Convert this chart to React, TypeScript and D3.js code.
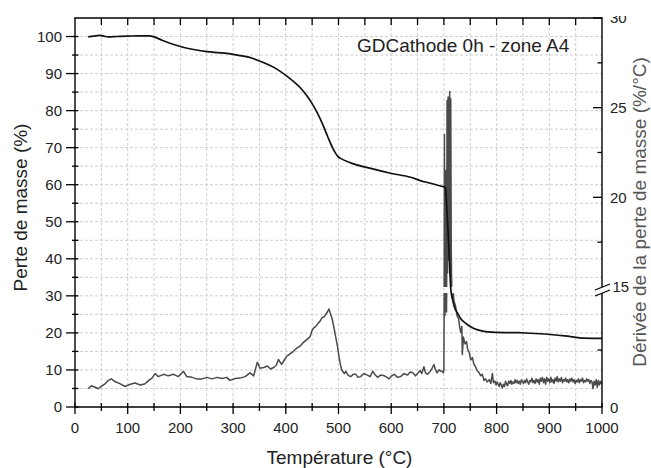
import React from "react";
import * as d3 from "d3";

// ---- Data ----
const tgTemp = [25, 35, 47, 55, 63, 80, 100, 120, 140, 150, 165, 180, 200, 225, 250, 275, 300, 320, 335, 350, 365, 383, 402, 415, 428, 440, 450, 460, 470, 480, 488, 494, 499, 504, 523, 561, 599, 637, 662, 675, 690, 703, 705, 708, 711, 713, 716, 720, 726, 732, 738, 745, 757, 770, 783, 814, 840, 865, 890, 929, 967, 1000];
const tgMass = [99.9, 100.1, 100.3, 100.1, 99.9, 100.0, 100.1, 100.2, 100.15, 99.9, 99.0, 98.2, 97.3, 96.5, 95.9, 95.6, 95.2, 94.7, 94.2, 93.4, 92.5, 91.2, 89.3, 87.8, 86.1, 84.0, 81.9, 79.3, 76.3, 72.8, 70.2, 68.6, 67.6, 67.1, 65.9, 64.4, 63.1, 62.0, 60.8, 60.4, 59.8, 59.2, 55.0, 47.0, 38.0, 32.0, 29.3, 27.0, 25.3, 23.8, 23.0, 22.2, 21.2, 20.6, 20.3, 20.1, 20.1, 19.9, 19.7, 19.2, 18.6, 18.5];

const dtgTemp = [25, 31, 38, 44, 50, 57, 63, 69, 76, 86, 95, 105, 114, 124, 133, 140, 146, 152, 158, 168, 177, 187, 196, 206, 212, 222, 231, 241, 250, 260, 269, 279, 288, 294, 304, 313, 323, 332, 339, 346, 351, 358, 365, 371, 377, 382, 386, 392, 397, 402, 408, 414, 420, 427, 432, 437, 442, 446, 450, 453, 457, 461, 465, 469, 473, 476, 479, 482, 485, 488, 492, 495, 498, 501, 503, 506, 508, 511, 514, 518, 523, 528, 533, 537, 542, 548, 555, 560, 565, 570, 574, 580, 587, 592, 596, 601, 606, 612, 618, 624, 631, 636, 641, 646, 650, 655, 658, 662, 665, 669, 673, 677, 681, 684, 687, 691, 694, 697, 699, 700, 701, 702, 703, 704, 705, 706, 707, 708, 709, 710, 711, 712, 713, 714, 715, 716, 718, 719, 722, 725, 728, 730, 732, 734, 735, 737, 740, 743, 745, 748, 751, 754, 757, 760, 763, 767, 770, 773, 776, 779, 782, 786, 789, 792, 794, 797, 799, 801, 803, 805, 807, 809, 811, 813, 815, 817, 819, 821, 823, 825, 827, 829, 831, 833, 835, 837, 839, 841, 843, 845, 847, 849, 851, 853, 855, 857, 859, 861, 863, 865, 867, 869, 871, 873, 875, 877, 879, 881, 883, 885, 887, 889, 891, 893, 895, 897, 899, 901, 903, 905, 907, 909, 911, 913, 915, 917, 919, 921, 923, 925, 927, 929, 931, 933, 935, 937, 939, 941, 943, 945, 947, 949, 951, 953, 955, 957, 959, 961, 963, 965, 967, 969, 971, 973, 975, 977, 979, 981, 983, 985, 987, 989, 991, 993, 995, 997, 999];
const dtgRate = [2.4, 2.8, 2.6, 2.4, 2.7, 3.05, 3.5, 3.7, 3.35, 3.05, 2.7, 3.0, 3.15, 2.9, 3.05, 3.5, 3.8, 4.4, 4.0, 4.3, 4.1, 4.3, 4.0, 4.7, 4.0, 3.9, 3.7, 3.7, 3.9, 3.7, 3.9, 3.75, 3.9, 3.5, 3.75, 3.8, 4.0, 4.5, 4.1, 5.9, 5.1, 5.2, 5.4, 5.0, 5.2, 5.5, 6.25, 5.6, 6.15, 6.7, 7.0, 7.3, 7.7, 8.0, 8.4, 8.7, 9.0, 9.25, 10.1, 10.4, 10.6, 11.0, 11.3, 11.75, 11.9, 12.2, 12.5, 12.9, 12.2, 11.6, 10.2, 9.1, 8.0, 6.6, 5.8, 4.9, 4.7, 4.4, 4.7, 4.2, 4.0, 4.3, 4.3, 3.9, 4.0, 4.4, 4.2, 4.0, 4.7, 4.2, 3.9, 4.2, 4.1, 3.9, 3.7, 4.1, 4.3, 3.9, 4.0, 4.4, 4.2, 4.6, 4.5, 4.1, 4.4, 4.8, 4.4, 5.3, 4.5, 4.3, 4.6, 5.0, 5.6, 4.9, 4.5, 4.9, 4.7, 4.7, 4.5, 4.8, 23.5, 12.0, 21.5, 14.2, 12.5, 25.4, 15.8, 25.6, 16.5, 24.0, 25.9, 15.6, 25.5, 17.0, 14.4, 14.6, 14.9, 14.0, 13.3, 12.0, 11.6, 10.5, 9.8, 10.6, 6.9, 9.2, 8.3, 8.6, 7.6, 7.2, 6.2, 6.5, 5.6, 5.3, 4.8, 4.5, 4.1, 4.3, 3.5, 3.7, 3.3, 3.6, 3.1, 4.4, 3.2, 3.4, 2.9, 3.3, 3.0, 2.7, 3.2, 2.9, 2.5, 3.0, 2.7, 3.4, 3.0, 2.8, 3.4, 3.1, 3.5, 3.0, 3.3, 3.1, 3.6, 3.2, 3.5, 3.1, 3.4, 3.0, 3.6, 3.3, 3.1, 3.5, 3.2, 3.7, 3.3, 3.0, 3.5, 3.3, 3.8, 3.2, 3.5, 3.1, 3.7, 3.3, 3.6, 3.0, 3.8, 3.4, 3.9, 3.2, 3.7, 3.0, 3.9, 3.4, 3.7, 3.2, 3.9, 3.3, 3.6, 3.1, 3.8, 3.4, 4.0, 3.3, 3.7, 3.4, 3.9, 3.2, 3.6, 3.4, 3.8, 3.3, 3.6, 3.2, 3.7, 3.4, 3.8, 3.3, 3.6, 3.1, 3.5, 3.3, 3.7, 3.2, 3.6, 3.4, 3.8, 3.2, 3.5, 3.3, 3.7, 3.4, 3.6, 3.1, 3.5, 3.3, 2.4, 3.4, 2.9, 3.6, 2.6, 3.5, 2.9, 3.4, 3.0];

const xTicks = [0, 100, 200, 300, 400, 500, 600, 700, 800, 900, 1000];
const leftTicks = [0, 10, 20, 30, 40, 50, 60, 70, 80, 90, 100];
const rightUpperTicks = [20, 25, 30];
const rightUpperMinor = [17.5, 22.5, 27.5];
const rightLowerMinor = [7.5];

const title = "GDCathode 0h - zone A4";
const xTitle = "Température (°C)";
const yTitle = "Perte de masse (%)";
const y2Title = "Dérivée de la perte de masse (%/°C)";

const BREAK = 15;

export default function App() {
  const W = 651, H = 468;
  const L = 75, R = 602, T = 18, B = 407;
  const x = d3.scaleLinear().domain([0, 1000]).range([L, R]);
  const y = d3.scaleLinear().domain([0, 105]).range([B, T]);
  const yLow = d3.scaleLinear().domain([0, BREAK]).range([B, 293]);
  const yUp = d3.scaleLinear().domain([BREAK, 30]).range([287, T]);
  const yR = (v: number) => (v <= BREAK ? yLow(v) : yUp(v));

  const tgLine = d3
    .line<number>()
    .x((_, i) => x(tgTemp[i]))
    .y((d) => y(d))
    .curve(d3.curveMonotoneX);

  // derivative with axis break
  type P = { px: number; py: number } | null;
  const pts: P[] = [];
  for (let i = 0; i < dtgTemp.length; i++) {
    const t = dtgTemp[i], v = dtgRate[i];
    if (i > 0) {
      const t0 = dtgTemp[i - 1], v0 = dtgRate[i - 1];
      if ((v0 <= BREAK) !== (v <= BREAK)) {
        const tc = t0 + ((BREAK - v0) / (v - v0)) * (t - t0);
        if (v0 <= BREAK) {
          pts.push({ px: x(tc), py: yLow(BREAK) });
          pts.push(null);
          pts.push({ px: x(tc), py: yUp(BREAK) });
        } else {
          pts.push({ px: x(tc), py: yUp(BREAK) });
          pts.push(null);
          pts.push({ px: x(tc), py: yLow(BREAK) });
        }
      }
    }
    pts.push({ px: x(t), py: yR(v) });
  }
  const dLine = d3
    .line<P>()
    .defined((d) => d !== null)
    .x((d) => (d as any).px)
    .y((d) => (d as any).py);

  const vGrid = d3.range(50, 1000, 50);
  const hGrid = d3.range(5, 105, 5);
  const leftMinor = d3.range(5, 105, 10);
  const xMinor = d3.range(50, 1000, 100);
  const topTicks = d3.range(50, 1000, 50);

  const font = "'Liberation Sans', Arial, sans-serif";
  const txt = "#222";

  return (
    <svg width={W} height={H} style={{ position: "absolute", left: 0, top: 0, background: "#fff" }} fontFamily={font}>
      <defs>
        <clipPath id="plotClip">
          <rect x={L} y={T} width={R - L} height={B - T} />
        </clipPath>
        <clipPath id="topCut" clipPathUnits="userSpaceOnUse">
          <rect x={600} y={16} width={50} height={30} />
        </clipPath>
      </defs>
      <rect x={0} y={0} width={W} height={H} fill="#fff" />
      {/* grid */}
      <g stroke="#cfcfcf" strokeWidth={1} strokeDasharray="3,2">
        {vGrid.map((t) => (
          <line key={"v" + t} x1={x(t)} x2={x(t)} y1={T} y2={B} />
        ))}
        {hGrid.map((v) => (
          <line key={"h" + v} x1={L} x2={R} y1={y(v)} y2={y(v)} />
        ))}
      </g>
      {/* curves */}
      <g clipPath="url(#plotClip)">
        <path d={dLine(pts) || ""} fill="none" stroke="#4a4a4a" strokeWidth={1.5} strokeLinejoin="round" />
        <path d={tgLine(tgMass) || ""} fill="none" stroke="#111" strokeWidth={1.7} strokeLinejoin="round" />
      </g>
      {/* axes frame */}
      <g stroke="#000" strokeWidth={1.4} fill="none">
        <line x1={L} x2={L} y1={T} y2={B + 0.7} />
        <line x1={L - 0.7} x2={R + 0.7} y1={B} y2={B} />
        <line x1={L - 0.7} x2={R + 0.7} y1={T} y2={T} />
        <line x1={R} x2={R} y1={T} y2={yUp(BREAK)} />
        <line x1={R} x2={R} y1={yLow(BREAK)} y2={B} />
        <line x1={595} x2={610} y1={yUp(BREAK) + 3} y2={yUp(BREAK) - 3} strokeWidth={1.2} />
        <line x1={595} x2={610} y1={yLow(BREAK) + 3} y2={yLow(BREAK) - 3} strokeWidth={1.2} />
      </g>
      {/* ticks */}
      <g stroke="#000" strokeWidth={1.3}>
        {leftTicks.map((v) => (
          <line key={"lt" + v} x1={L - 9} x2={L + 3.5} y1={y(v)} y2={y(v)} />
        ))}
        {leftMinor.map((v) => (
          <line key={"lm" + v} x1={L - 3} x2={L + 3.5} y1={y(v)} y2={y(v)} />
        ))}
        {xTicks.map((t) => (
          <line key={"xt" + t} x1={x(t)} x2={x(t)} y1={B - 4} y2={B + 7} />
        ))}
        {xMinor.map((t) => (
          <line key={"xm" + t} x1={x(t)} x2={x(t)} y1={B - 4} y2={B + 4} />
        ))}
        {topTicks.map((t) => (
          <line key={"tt" + t} x1={x(t)} x2={x(t)} y1={T} y2={T + 7} />
        ))}
        {rightUpperTicks.map((v) => (
          <line key={"ru" + v} x1={R - 9} x2={R} y1={yUp(v)} y2={yUp(v)} />
        ))}
        {rightUpperMinor.map((v) => (
          <line key={"rum" + v} x1={R - 4.5} x2={R} y1={yUp(v)} y2={yUp(v)} />
        ))}
        {rightLowerMinor.map((v) => (
          <line key={"rlm" + v} x1={R - 4.5} x2={R} y1={yLow(v)} y2={yLow(v)} />
        ))}
      </g>
      {/* tick labels */}
      <g fontSize={15} fill={txt}>
        {leftTicks.map((v) => (
          <text key={"ll" + v} x={62} y={y(v) + 5.3} textAnchor="end">
            {v}
          </text>
        ))}
        {xTicks.map((t) => (
          <text key={"xl" + t} x={x(t)} y={433} textAnchor="middle">
            {t}
          </text>
        ))}
        {rightUpperTicks.filter((v) => v < 30).map((v) => (
          <text key={"rl" + v} x={610} y={yUp(v) + 5.5}>
            {v}
          </text>
        ))}
        <g clipPath="url(#topCut)">
          <text x={610} y={22.5}>30</text>
        </g>
        <text x={612.5} y={292}>{BREAK}</text>
        <text x={610} y={yLow(0) + 5.5}>0</text>
      </g>
      {/* titles */}
      <text x={357} y={51.5} fontSize={19} fill={txt}>
        {title}
      </text>
      <text x={(L + R) / 2 + 1} y={464} fontSize={19} fill={txt} textAnchor="middle">
        {xTitle}
      </text>
      <text transform={`translate(27,207.5) rotate(-90)`} fontSize={19} fill={txt} textAnchor="middle">
        {yTitle}
      </text>
      <text transform={`translate(646,212) rotate(-90)`} fontSize={19} fill="#555" textAnchor="middle">
        {y2Title}
      </text>
    </svg>
  );
}
